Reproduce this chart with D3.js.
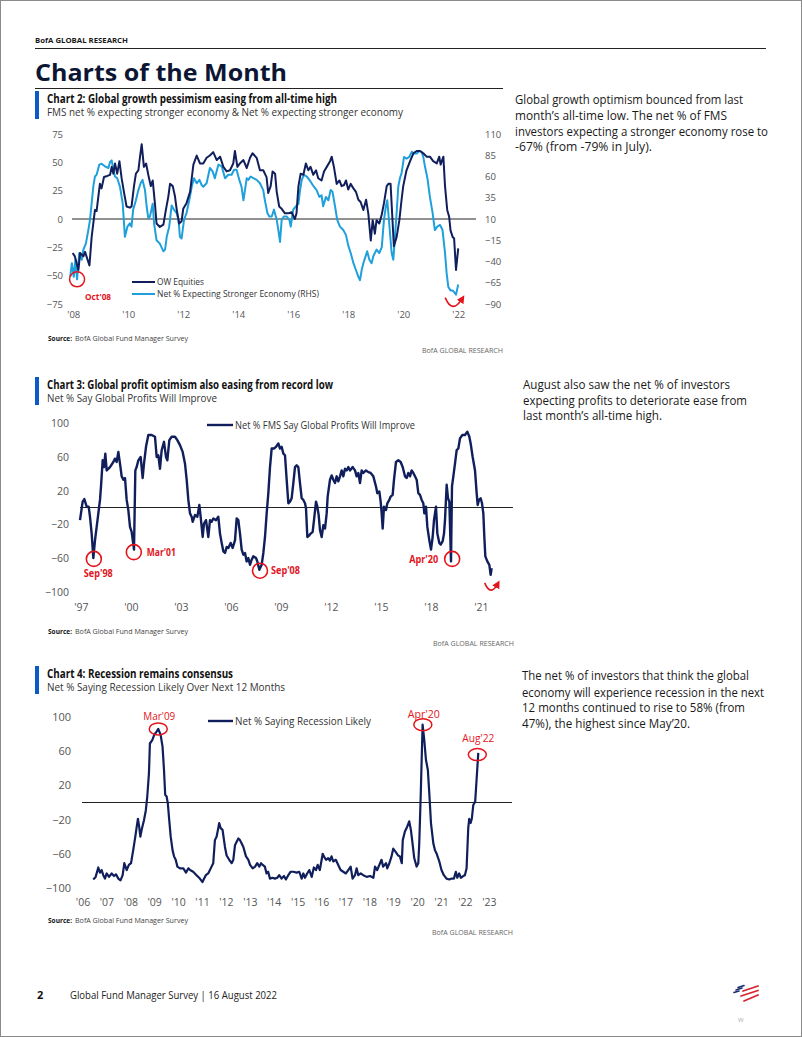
<!DOCTYPE html>
<html><head><meta charset="utf-8">
<script src="https://cdn.jsdelivr.net/npm/d3@7"></script>
<style>body{margin:0;background:#fff}svg{display:block}text{font-family:"Open Sans",sans-serif}</style>
</head><body>
<svg id="page" width="802" height="1037"></svg>
<script>
// ---------------- DATA ----------------
// Chart 2: OW Equities (LHS) and Net % expecting stronger economy (RHS), [decimal year, value]
const owEquities = [[2008.56,-30],[2008.64,-33],[2008.77,-45],[2008.83,-30],[2008.95,-33],[2009.01,-29],[2009.17,-41],[2009.25,-16],[2009.37,8],[2009.43,7],[2009.55,31],[2009.61,27],[2009.70,37],[2009.82,38],[2009.92,39],[2009.98,46],[2010.04,40],[2010.10,49],[2010.18,40],[2010.26,51],[2010.34,36],[2010.43,23],[2010.52,11],[2010.64,10],[2010.70,11],[2010.79,29],[2010.86,40],[2010.95,43],[2011.01,55],[2011.07,66],[2011.15,46],[2011.23,49],[2011.31,39],[2011.40,29],[2011.47,34],[2011.55,14],[2011.61,-4],[2011.73,-7],[2011.86,-5],[2011.95,8],[2012.04,20],[2012.10,31],[2012.20,29],[2012.28,20],[2012.34,9],[2012.43,-4],[2012.52,-2],[2012.58,9],[2012.70,14],[2012.83,24],[2012.95,48],[2013.07,56],[2013.19,49],[2013.31,49],[2013.43,54],[2013.55,56],[2013.67,59],[2013.80,52],[2013.92,55],[2014.04,46],[2014.16,42],[2014.28,43],[2014.40,49],[2014.46,60],[2014.55,46],[2014.64,49],[2014.77,52],[2014.89,45],[2015.01,54],[2015.10,58],[2015.25,54],[2015.37,43],[2015.49,43],[2015.61,37],[2015.67,23],[2015.76,29],[2015.83,42],[2015.92,40],[2015.98,24],[2016.07,11],[2016.16,9],[2016.28,5],[2016.40,5],[2016.52,6],[2016.64,0],[2016.70,5],[2016.77,29],[2016.85,40],[2016.95,39],[2017.04,49],[2017.13,43],[2017.21,46],[2017.31,39],[2017.41,43],[2017.49,36],[2017.61,34],[2017.70,42],[2017.80,46],[2017.92,51],[2017.98,55],[2018.06,46],[2018.16,31],[2018.26,34],[2018.34,29],[2018.43,30],[2018.50,34],[2018.58,26],[2018.67,31],[2018.77,27],[2018.86,24],[2018.95,17],[2019.03,15],[2019.13,8],[2019.23,17],[2019.31,5],[2019.40,-19],[2019.47,-1],[2019.55,-13],[2019.61,-1],[2019.71,-4],[2019.80,4],[2019.88,14],[2019.98,29],[2020.04,31],[2020.12,31],[2020.19,-1],[2020.24,-24],[2020.34,-16],[2020.44,-1],[2020.52,17],[2020.58,29],[2020.70,43],[2020.83,51],[2020.95,58],[2021.07,60],[2021.19,60],[2021.31,58],[2021.43,55],[2021.55,55],[2021.67,51],[2021.80,49],[2021.89,55],[2021.94,48],[2022.04,55],[2022.10,29],[2022.18,8],[2022.25,2],[2022.30,-10],[2022.38,-16],[2022.43,-17],[2022.50,-45],[2022.58,-26]];
const strongerEconomy = [[2008.47,-58],[2008.53,-42],[2008.60,-58],[2008.66,-38],[2008.72,-61],[2008.80,-30],[2008.89,-38],[2008.95,-26],[2009.04,-19],[2009.13,-3],[2009.19,9],[2009.25,28],[2009.31,48],[2009.37,60],[2009.43,62],[2009.53,74],[2009.61,75],[2009.73,72],[2009.86,70],[2009.92,77],[2009.98,79],[2010.04,68],[2010.10,60],[2010.18,58],[2010.28,48],[2010.38,28],[2010.46,-11],[2010.55,1],[2010.64,5],[2010.70,1],[2010.76,21],[2010.86,32],[2010.95,44],[2011.03,52],[2011.10,56],[2011.19,44],[2011.25,25],[2011.31,11],[2011.37,13],[2011.47,28],[2011.52,5],[2011.61,-15],[2011.73,-19],[2011.86,-28],[2011.92,-26],[2011.98,-11],[2012.07,1],[2012.16,26],[2012.24,21],[2012.34,17],[2012.41,9],[2012.46,-11],[2012.52,-13],[2012.61,9],[2012.70,17],[2012.80,32],[2012.89,48],[2012.97,58],[2013.07,52],[2013.17,56],[2013.25,50],[2013.31,48],[2013.43,52],[2013.55,70],[2013.65,66],[2013.73,58],[2013.86,74],[2013.98,72],[2014.10,58],[2014.22,62],[2014.34,62],[2014.43,68],[2014.52,68],[2014.62,56],[2014.70,48],[2014.77,32],[2014.89,58],[2014.95,56],[2015.03,60],[2015.13,58],[2015.25,56],[2015.37,52],[2015.49,44],[2015.55,32],[2015.64,17],[2015.71,13],[2015.80,13],[2015.88,21],[2015.98,9],[2016.04,-3],[2016.10,-17],[2016.16,9],[2016.24,13],[2016.34,13],[2016.44,9],[2016.49,1],[2016.58,21],[2016.68,25],[2016.77,28],[2016.83,44],[2016.89,56],[2016.97,62],[2017.07,60],[2017.17,56],[2017.25,52],[2017.33,48],[2017.43,44],[2017.53,36],[2017.61,38],[2017.67,25],[2017.77,36],[2017.86,32],[2017.94,44],[2018.01,42],[2018.10,25],[2018.18,9],[2018.28,1],[2018.40,-3],[2018.50,-9],[2018.58,-21],[2018.67,-30],[2018.77,-42],[2018.86,-50],[2018.95,-58],[2019.01,-62],[2019.07,-50],[2019.13,-42],[2019.19,-36],[2019.27,-28],[2019.35,-38],[2019.43,-42],[2019.49,-34],[2019.55,-30],[2019.61,-26],[2019.71,-30],[2019.80,-23],[2019.88,9],[2019.95,25],[2020.00,32],[2020.07,5],[2020.16,-30],[2020.22,-38],[2020.28,-11],[2020.34,17],[2020.40,48],[2020.46,58],[2020.52,64],[2020.61,83],[2020.70,81],[2020.80,83],[2020.89,89],[2020.97,87],[2021.07,87],[2021.17,90],[2021.25,89],[2021.31,83],[2021.37,72],[2021.46,58],[2021.55,36],[2021.65,17],[2021.73,-3],[2021.82,1],[2021.92,3],[2022.01,-3],[2022.10,-30],[2022.16,-54],[2022.22,-70],[2022.30,-74],[2022.38,-74],[2022.50,-79],[2022.58,-67]];
const chart2Years = [2008.583,2010.583,2012.583,2014.583,2016.583,2018.583,2020.583,2022.583];
const chart2XLabels = ["'08","'10","'12","'14","'16","'18","'20","'22"];
const chart2LeftTicks = [75,50,25,0,-25,-50,-75];
const chart2RightTicks = [110,85,60,35,10,-15,-40,-65,-90];
const chart2Series = ["OW Equities","Net % Expecting Stronger Economy (RHS)"];
const chart2Notes = [{label:"Oct'08", date:2008.72, value:-61}];

// Chart 3: Net % say global profits will improve
const profitsImprove = [[1997.87,-15],[1998.03,7],[1998.13,10],[1998.27,1],[1998.39,1],[1998.47,-11],[1998.57,-31],[1998.67,-60],[1998.77,-39],[1998.87,-23],[1998.97,-7],[1999.07,9],[1999.13,25],[1999.23,56],[1999.31,48],[1999.39,64],[1999.47,44],[1999.67,48],[1999.87,54],[1999.97,58],[2000.07,54],[2000.17,66],[2000.27,52],[2000.37,37],[2000.47,33],[2000.57,35],[2000.67,9],[2000.77,-3],[2000.87,-23],[2000.97,-29],[2001.11,-50],[2001.19,44],[2001.27,48],[2001.37,56],[2001.51,60],[2001.63,35],[2001.71,52],[2001.83,72],[2001.97,86],[2002.17,86],[2002.37,84],[2002.47,60],[2002.57,62],[2002.67,46],[2002.77,68],[2002.91,78],[2003.03,60],[2003.11,56],[2003.23,80],[2003.37,84],[2003.57,84],[2003.71,80],[2003.87,74],[2004.03,66],[2004.17,52],[2004.27,33],[2004.37,9],[2004.47,-7],[2004.57,-11],[2004.63,-17],[2004.77,-9],[2004.91,-11],[2005.03,3],[2005.11,-11],[2005.23,-35],[2005.31,-19],[2005.43,-15],[2005.57,-35],[2005.67,-15],[2005.77,-17],[2005.87,-13],[2006.03,-15],[2006.17,-11],[2006.27,-31],[2006.37,-42],[2006.47,-52],[2006.57,-54],[2006.67,-47],[2006.77,-48],[2006.91,-42],[2007.03,-48],[2007.17,-39],[2007.27,-13],[2007.37,-15],[2007.47,-31],[2007.57,-50],[2007.67,-56],[2007.77,-54],[2007.87,-64],[2007.97,-60],[2008.07,-68],[2008.17,-62],[2008.27,-58],[2008.43,-60],[2008.51,-64],[2008.63,-74],[2008.77,-68],[2008.87,-54],[2008.97,-35],[2009.07,-7],[2009.17,17],[2009.27,48],[2009.37,70],[2009.51,70],[2009.63,72],[2009.77,76],[2009.87,70],[2009.97,72],[2010.07,64],[2010.17,62],[2010.27,33],[2010.37,5],[2010.47,7],[2010.57,11],[2010.67,29],[2010.77,48],[2010.87,50],[2010.97,48],[2011.07,29],[2011.17,11],[2011.27,9],[2011.37,5],[2011.43,-1],[2011.51,-35],[2011.63,-33],[2011.71,-31],[2011.83,-29],[2011.91,-15],[2012.03,7],[2012.11,1],[2012.19,-9],[2012.27,-27],[2012.37,-35],[2012.47,-21],[2012.57,-25],[2012.67,-7],[2012.73,13],[2012.87,33],[2012.97,38],[2013.07,33],[2013.17,29],[2013.27,37],[2013.37,31],[2013.47,37],[2013.57,44],[2013.67,37],[2013.77,46],[2013.87,44],[2013.97,48],[2014.07,44],[2014.23,48],[2014.37,44],[2014.47,37],[2014.57,41],[2014.67,29],[2014.77,44],[2014.87,41],[2015.03,44],[2015.17,42],[2015.31,41],[2015.47,37],[2015.63,25],[2015.71,17],[2015.83,19],[2015.91,7],[2015.97,-7],[2016.03,-25],[2016.11,1],[2016.23,-3],[2016.31,5],[2016.43,9],[2016.51,13],[2016.63,15],[2016.71,33],[2016.83,54],[2016.97,56],[2017.11,54],[2017.23,48],[2017.37,37],[2017.47,35],[2017.57,41],[2017.67,37],[2017.77,44],[2017.87,41],[2017.97,37],[2018.07,33],[2018.17,17],[2018.27,15],[2018.37,9],[2018.47,5],[2018.53,-7],[2018.63,1],[2018.71,-23],[2018.83,-39],[2018.93,-50],[2019.03,-35],[2019.11,-15],[2019.23,1],[2019.31,-31],[2019.43,-42],[2019.51,-44],[2019.63,-40],[2019.71,-31],[2019.77,-15],[2019.87,27],[2019.95,11],[2020.03,7],[2020.13,-64],[2020.19,25],[2020.27,37],[2020.37,52],[2020.47,68],[2020.57,70],[2020.67,82],[2020.81,86],[2020.97,86],[2021.11,90],[2021.23,84],[2021.31,76],[2021.43,60],[2021.57,44],[2021.67,17],[2021.73,3],[2021.81,9],[2021.91,11],[2021.99,5],[2022.07,-7],[2022.13,-35],[2022.19,-58],[2022.31,-64],[2022.43,-68],[2022.51,-80],[2022.57,-72]];
const chart3Years = [1997.92,2000.92,2003.92,2006.92,2009.92,2012.92,2015.92,2018.92,2021.92];
const chart3XLabels = ["'97","'00","'03","'06","'09","'12","'15","'18","'21"];
const chart3YTicks = [100,60,20,-20,-60,-100];
const chart3Series = ["Net % FMS Say Global Profits Will Improve"];
const chart3Notes = [{label:"Sep'98",date:1998.7,value:-61},{label:"Mar'01",date:2001.1,value:-53},{label:"Sep'08",date:2008.67,value:-75},{label:"Apr'20",date:2020.2,value:-61}];

// Chart 4: Net % saying recession likely
const recessionLikely = [[2006.45,-90],[2006.55,-87],[2006.66,-76],[2006.73,-82],[2006.80,-79],[2006.87,-85],[2006.94,-89],[2007.01,-83],[2007.11,-87],[2007.22,-83],[2007.32,-86],[2007.40,-84],[2007.50,-89],[2007.59,-91],[2007.68,-85],[2007.75,-71],[2007.85,-79],[2007.94,-73],[2008.03,-71],[2008.12,-56],[2008.21,-40],[2008.26,-30],[2008.32,-19],[2008.37,-28],[2008.42,-40],[2008.49,-30],[2008.57,-21],[2008.65,-9],[2008.71,7],[2008.78,34],[2008.82,69],[2008.92,73],[2009.00,79],[2009.10,83],[2009.17,86],[2009.27,79],[2009.35,65],[2009.41,38],[2009.46,9],[2009.52,7],[2009.57,-1],[2009.63,-21],[2009.69,-40],[2009.77,-56],[2009.83,-63],[2009.90,-67],[2009.97,-75],[2010.08,-77],[2010.22,-77],[2010.33,-82],[2010.43,-77],[2010.50,-79],[2010.63,-81],[2010.77,-85],[2010.91,-89],[2011.02,-93],[2011.09,-89],[2011.16,-85],[2011.26,-83],[2011.40,-75],[2011.47,-71],[2011.54,-44],[2011.61,-40],[2011.68,-30],[2011.72,-24],[2011.78,-30],[2011.86,-32],[2011.96,-52],[2012.03,-62],[2012.14,-67],[2012.24,-71],[2012.31,-67],[2012.38,-50],[2012.45,-46],[2012.52,-42],[2012.59,-44],[2012.66,-48],[2012.73,-52],[2012.84,-63],[2012.94,-67],[2013.01,-73],[2013.12,-77],[2013.22,-75],[2013.31,-71],[2013.40,-75],[2013.47,-71],[2013.54,-73],[2013.63,-75],[2013.70,-83],[2013.77,-81],[2013.84,-89],[2013.95,-88],[2014.05,-89],[2014.15,-88],[2014.23,-85],[2014.33,-89],[2014.43,-86],[2014.51,-90],[2014.61,-85],[2014.71,-81],[2014.82,-81],[2014.96,-82],[2015.07,-81],[2015.17,-89],[2015.24,-83],[2015.31,-88],[2015.40,-83],[2015.49,-79],[2015.59,-87],[2015.68,-76],[2015.77,-79],[2015.84,-73],[2015.93,-79],[2016.05,-60],[2016.10,-63],[2016.19,-67],[2016.28,-65],[2016.35,-68],[2016.42,-63],[2016.49,-69],[2016.60,-67],[2016.70,-73],[2016.80,-79],[2016.91,-81],[2017.02,-83],[2017.12,-79],[2017.22,-75],[2017.30,-89],[2017.40,-85],[2017.47,-77],[2017.54,-85],[2017.64,-83],[2017.75,-85],[2017.89,-87],[2018.03,-86],[2018.17,-88],[2018.24,-75],[2018.33,-79],[2018.42,-73],[2018.51,-67],[2018.58,-75],[2018.70,-71],[2018.75,-77],[2018.84,-71],[2018.93,-63],[2019.00,-54],[2019.11,-58],[2019.21,-62],[2019.28,-63],[2019.36,-71],[2019.40,-44],[2019.49,-34],[2019.59,-28],[2019.67,-22],[2019.74,-32],[2019.81,-48],[2019.88,-65],[2019.98,-75],[2020.05,-71],[2020.09,-48],[2020.15,7],[2020.23,91],[2020.30,73],[2020.37,50],[2020.45,38],[2020.51,11],[2020.58,-24],[2020.68,-48],[2020.75,-56],[2020.82,-60],[2020.93,-69],[2021.02,-79],[2021.12,-85],[2021.23,-89],[2021.35,-90],[2021.44,-89],[2021.54,-89],[2021.62,-81],[2021.68,-88],[2021.76,-83],[2021.83,-88],[2021.93,-86],[2022.00,-85],[2022.07,-77],[2022.14,-30],[2022.18,-19],[2022.24,-24],[2022.29,-19],[2022.35,-3],[2022.43,1],[2022.56,58]];
const chart4Years = [2006,2007,2008,2009,2010,2011,2012,2013,2014,2015,2016,2017,2018,2019,2020,2021,2022,2023];
const chart4XLabels = ["'06","'07","'08","'09","'10","'11","'12","'13","'14","'15","'16","'17","'18","'19","'20","'21","'22","'23"];
const chart4YTicks = [100,60,20,-20,-60,-100];
const chart4Series = ["Net % Saying Recession Likely"];
const chart4Notes = [{label:"Mar'09",date:2009.17,value:86},{label:"Apr'20",date:2020.24,value:91},{label:"Aug'22",date:2022.52,value:56}];

const sideText2 = ["Global growth optimism bounced from last","month\u2019s all-time low. The net % of FMS","investors expecting a stronger economy rose to","-67% (from -79% in July)."];
const sideText3 = ["August also saw the net % of investors","expecting profits to deteriorate ease from","last month\u2019s all-time high."];
const sideText4 = ["The net % of investors that think the global","economy will experience recession in the next","12 months continued to rise to 58% (from","47%), the highest since May\u201920."];

// ---------------- STYLE ----------------
const NAVY = "#101f5c", LIGHT = "#1fa0dc", RED = "#e3141c", BARBLUE = "#0a5ac8", GREY = "#555";
const svg = d3.select("#page");

svg.append("rect").attr("x",0.5).attr("y",0.5).attr("width",801).attr("height",1036)
  .attr("fill","#fff").attr("stroke","#8a8a8a").attr("stroke-width",1);

function T(g, x, y, s, o) {
  o = o || {};
  const t = g.append("text").attr("x", x).attr("y", y).attr("dy", "0.35em").text(s)
    .attr("font-size", o.size || 10).attr("fill", o.fill || "#222")
    .attr("font-weight", o.weight || 400).attr("text-anchor", o.anchor || "start");
  if (o.family) t.attr("font-family", o.family);
  if (o.len) t.attr("textLength", o.len).attr("lengthAdjust", "spacingAndGlyphs");
  return t;
}

// Header
T(svg, 35, 41, "BofA GLOBAL RESEARCH", {size:7, weight:700, len:93, fill:"#1a1a1a"});
svg.append("line").attr("x1",35).attr("x2",766).attr("y1",48.5).attr("y2",48.5).attr("stroke","#222").attr("stroke-width",1);
T(svg, 35, 73, "Charts of the Month", {size:23, weight:700, len:252, fill:"#0c1634"});
svg.append("line").attr("x1",35).attr("x2",503).attr("y1",88.5).attr("y2",88.5).attr("stroke","#222").attr("stroke-width",1);

function chartHeader(top, title, titleLen, sub, subLen) {
  svg.append("rect").attr("x",35).attr("y",top).attr("width",4).attr("height",28).attr("fill",BARBLUE);
  T(svg, 47, top+7.5, title, {size:11.5, weight:700, len:titleLen, fill:"#111", family:"Roboto"});
  T(svg, 47, top+21.5, sub, {size:11, len:subLen, fill:"#333", family:"Roboto"});
}
function sourceLine(y, brandRight) {
  T(svg, 48, y, "Source:", {size:7.5, weight:700, len:24, fill:"#111"});
  T(svg, 75, y, "BofA Global Fund Manager Survey", {size:7.5, len:113, fill:"#444"});
  T(svg, brandRight, y+12, "BofA GLOBAL RESEARCH", {size:7.5, len:81, fill:"#666", anchor:"end"});
}
function sideText(lines, x, ys, lens) {
  lines.forEach((s,i) => T(svg, x, ys[i], s, {size:12.5, len:lens[i], fill:"#1a1a1a"}));
}
function styleAxis(g, size) {
  g.select(".domain").remove();
  g.selectAll("text").attr("font-size", size).attr("fill", GREY).attr("font-family","'Open Sans',sans-serif");
}
function arrowMarker(id) {
  const m = svg.append("defs").append("marker").attr("id",id).attr("viewBox","0 0 10 10")
    .attr("refX",5).attr("refY",5).attr("markerWidth",5).attr("markerHeight",5).attr("orient","auto");
  m.append("path").attr("d","M0,0 L10,5 L0,10 z").attr("fill",RED);
}
arrowMarker("arrowRed");

// ---------------- CHART 2 ----------------
chartHeader(91, "Chart 2: Global growth pessimism easing from all-time high", 290,
  "FMS net % expecting stronger economy & Net % expecting stronger economy", 356);
{
  const x = d3.scaleLinear().domain([2008.583, 2022.583]).range([73.3, 458.3]);
  const yL = d3.scaleLinear().domain([-75, 75]).range([304, 134]);
  const yR = d3.scaleLinear().domain([-90, 110]).range([304, 134]);
  svg.append("line").attr("x1",72).attr("x2",476).attr("y1",yL(0)).attr("y2",yL(0)).attr("stroke","#222").attr("stroke-width",1);

  const gl = svg.append("g").attr("transform","translate(63,0)")
    .call(d3.axisLeft(yL).tickValues(chart2LeftTicks).tickSize(0).tickPadding(0).tickFormat(d3.format("d")));
  styleAxis(gl, 9.5);
  const gr = svg.append("g").attr("transform","translate(485,0)")
    .call(d3.axisRight(yR).tickValues(chart2RightTicks).tickSize(0).tickPadding(0).tickFormat(d3.format("d")));
  styleAxis(gr, 9.5);
  const gx = svg.append("g").attr("transform","translate(0,315)")
    .call(d3.axisBottom(x).tickValues(chart2Years).tickSize(0).tickFormat((d,i)=>chart2XLabels[i]));
  styleAxis(gx, 9.5);
  gx.selectAll("text").attr("y",0).attr("dy","0.35em");

  svg.append("path").datum(strongerEconomy).attr("fill","none").attr("stroke",LIGHT).attr("stroke-width",2)
    .attr("stroke-linejoin","round").attr("d", d3.line().x(d=>x(d[0])).y(d=>yR(d[1])));
  svg.append("path").datum(owEquities).attr("fill","none").attr("stroke",NAVY).attr("stroke-width",2)
    .attr("stroke-linejoin","round").attr("d", d3.line().x(d=>x(d[0])).y(d=>yL(d[1])));

  // legend
  [NAVY, LIGHT].forEach((c,i) => {
    svg.append("line").attr("x1",132).attr("x2",155).attr("y1",282+12*i).attr("y2",282+12*i).attr("stroke",c).attr("stroke-width",2);
  });
  T(svg, 157, 282, chart2Series[0], {size:9, len:47, fill:"#333"});
  T(svg, 157, 294, chart2Series[1], {size:9, len:162, fill:"#333"});

  chart2Notes.forEach(n => {
    const cx = x(n.date), cy = yR(n.value);
    svg.append("circle").attr("cx",cx).attr("cy",cy).attr("r",7.5).attr("fill","none").attr("stroke",RED).attr("stroke-width",1.5);
    T(svg, cx+8, cy+17, n.label, {size:9.5, weight:700, len:26, fill:RED});
  });
  // bounce arrow near last point
  const last = strongerEconomy[strongerEconomy.length-1];
  const ax = x(last[0]), ay = yR(-79);
  svg.append("path").attr("d",`M${ax-13},${ay+3} Q${ax-6},${ay+20} ${ax+4},${ay+4}`)
    .attr("fill","none").attr("stroke",RED).attr("stroke-width",1.6).attr("marker-end","url(#arrowRed)");
}
sourceLine(338, 503);
sideText(sideText2, 515, [100,116,131.5,147], [228,212,253,137]);

// ---------------- CHART 3 ----------------
chartHeader(377, "Chart 3: Global profit optimism also easing from record low", 286,
  "Net % Say Global Profits Will Improve", 170);
{
  const x = d3.scaleLinear().domain([1997.9, 2023.88]).range([80.5, 513.5]);
  const y = d3.scaleLinear().domain([-100, 100]).range([591.75, 423.25]);
  svg.append("line").attr("x1",80).attr("x2",513).attr("y1",y(0)).attr("y2",y(0)).attr("stroke","#222").attr("stroke-width",1);
  const gl = svg.append("g").attr("transform","translate(69,0)")
    .call(d3.axisLeft(y).tickValues(chart3YTicks).tickSize(0).tickPadding(0).tickFormat(d3.format("d")));
  styleAxis(gl, 10.5);
  const gx = svg.append("g").attr("transform","translate(0,607)")
    .call(d3.axisBottom(x).tickValues(chart3Years).tickSize(0).tickFormat((d,i)=>chart3XLabels[i]));
  styleAxis(gx, 10.5);
  gx.selectAll("text").attr("y",0).attr("dy","0.35em");

  svg.append("path").datum(profitsImprove).attr("fill","none").attr("stroke",NAVY).attr("stroke-width",2.4)
    .attr("stroke-linejoin","round").attr("d", d3.line().x(d=>x(d[0])).y(d=>y(d[1])));

  svg.append("line").attr("x1",207).attr("x2",233).attr("y1",425).attr("y2",425).attr("stroke",NAVY).attr("stroke-width",2.4);
  T(svg, 235, 425, chart3Series[0], {size:10.5, len:180, fill:"#333"});

  const labelPos = {"Sep'98":[-10,14,"start"], "Mar'01":[13,0,"start"], "Sep'08":[11,0,"start"], "Apr'20":[-14,0,"end"]};
  chart3Notes.forEach(n => {
    const cx = x(n.date), cy = y(n.value), p = labelPos[n.label];
    svg.append("circle").attr("cx",cx).attr("cy",cy).attr("r",7.5).attr("fill","none").attr("stroke",RED).attr("stroke-width",1.6);
    T(svg, cx+p[0], cy+p[1], n.label, {size:10.5, weight:700, len:29, fill:RED, anchor:p[2]});
  });
  const last = profitsImprove[profitsImprove.length-1];
  const ax = x(last[0]), ay = y(-80);
  svg.append("path").attr("d",`M${ax-7},${ay+8} Q${ax-1},${ay+22} ${ax+6},${ay+9}`)
    .attr("fill","none").attr("stroke",RED).attr("stroke-width",1.6).attr("marker-end","url(#arrowRed)");
}
sourceLine(631, 514);
sideText(sideText3, 523, [385,400.5,415.5], [207,224,139]);

// ---------------- CHART 4 ----------------
chartHeader(666, "Chart 4: Recession remains consensus", 186,
  "Net % Saying Recession Likely Over Next 12 Months", 238);
{
  const x = d3.scaleLinear().domain([2006, 2024]).range([82.5, 512.7]);
  const y = d3.scaleLinear().domain([-100, 100]).range([888, 717]);
  svg.append("line").attr("x1",82).attr("x2",512).attr("y1",y(0)).attr("y2",y(0)).attr("stroke","#222").attr("stroke-width",1);
  const gl = svg.append("g").attr("transform","translate(71,0)")
    .call(d3.axisLeft(y).tickValues(chart4YTicks).tickSize(0).tickPadding(0).tickFormat(d3.format("d")));
  styleAxis(gl, 11);
  const gx = svg.append("g").attr("transform","translate(0,902)")
    .call(d3.axisBottom(x).tickValues(chart4Years).tickSize(0).tickFormat((d,i)=>chart4XLabels[i]));
  styleAxis(gx, 10.5);
  gx.selectAll("text").attr("y",0).attr("dy","0.35em");

  svg.append("path").datum(recessionLikely).attr("fill","none").attr("stroke",NAVY).attr("stroke-width",2.2)
    .attr("stroke-linejoin","round").attr("d", d3.line().x(d=>x(d[0])).y(d=>y(d[1])));

  svg.append("line").attr("x1",208).attr("x2",233).attr("y1",721).attr("y2",721).attr("stroke",NAVY).attr("stroke-width",2.4);
  T(svg, 235, 721, chart4Series[0], {size:10.5, len:136, fill:"#333"});

  const labelDy = {"Mar'09":-13, "Apr'20":-11, "Aug'22":-16};
  chart4Notes.forEach(n => {
    const cx = x(n.date), cy = y(n.value);
    svg.append("ellipse").attr("cx",cx).attr("cy",cy).attr("rx",9).attr("ry",6).attr("fill","none").attr("stroke",RED).attr("stroke-width",1.5);
    T(svg, cx+1, cy+labelDy[n.label], n.label, {size:11, len:32, fill:RED, anchor:"middle"});
  });
}
sourceLine(920, 513);
sideText(sideText4, 522, [676,692.5,708,723.5], [227,242,223,168]);

// ---------------- FOOTER ----------------
T(svg, 37, 995, "2", {size:11, weight:700, fill:"#111"});
T(svg, 70, 995, "Global Fund Manager Survey | 16 August 2022", {size:11, len:207, fill:"#222"});
{
  const lg = svg.append("g");
  const blue = [[734,992.5,739,991],[736,990,742,988],[738,987.5,744,985.5]];
  blue.forEach(b => lg.append("line").attr("x1",b[0]).attr("y1",b[1]).attr("x2",b[2]).attr("y2",b[3])
    .attr("stroke","#1b2a6b").attr("stroke-width",1.6).attr("stroke-linecap","round"));
  const red = [[743,991,758,986],[741,996,758,990.5],[744,1001,758,995]];
  red.forEach(r => lg.append("line").attr("x1",r[0]).attr("y1",r[1]).attr("x2",r[2]).attr("y2",r[3])
    .attr("stroke","#d9232e").attr("stroke-width",1.8).attr("stroke-linecap","round"));
}
T(svg, 738, 1020, "W", {size:6, fill:"#aaa"});
</script>
</body></html>
